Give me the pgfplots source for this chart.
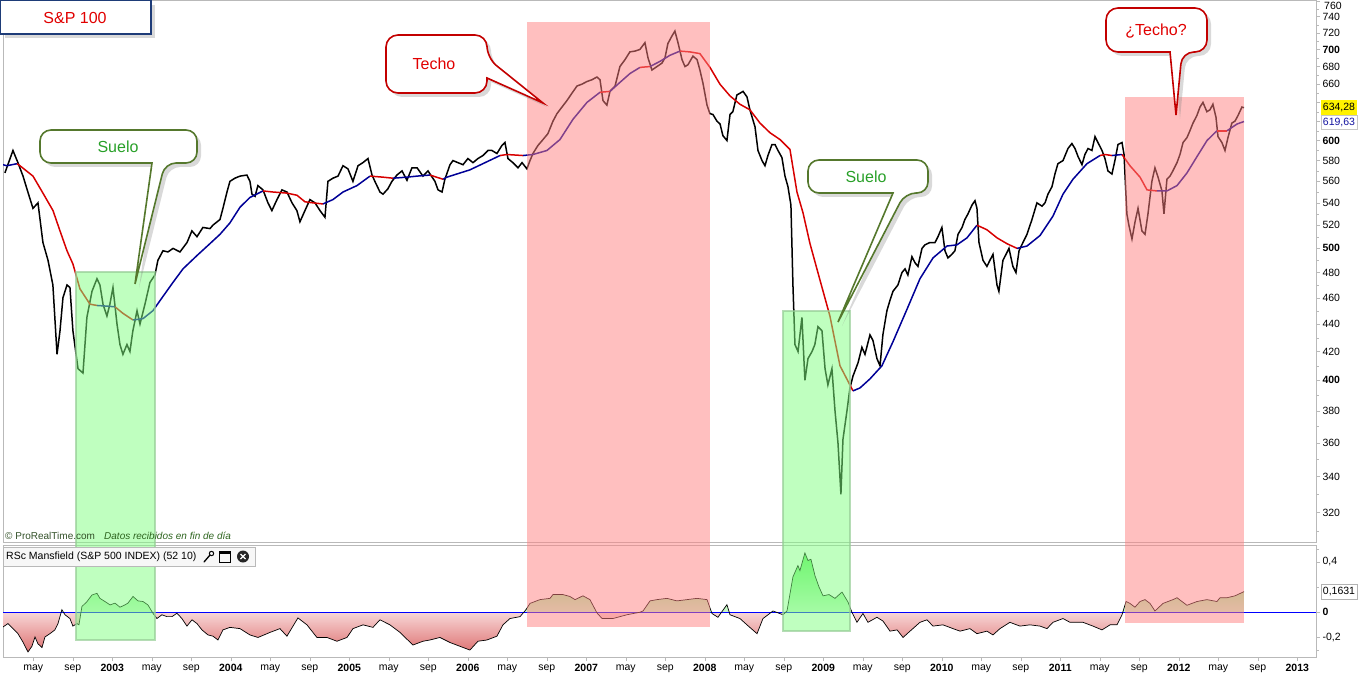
\documentclass[border=0pt]{standalone}
\usepackage{fontspec}
\setmainfont{Liberation Sans}
\usepackage{pgfplots}
\usepackage{pgfplotstable}
\pgfplotsset{compat=1.18}
\usetikzlibrary{shadows}

\definecolor{maRed}{RGB}{215,0,0}
\definecolor{maBlue}{RGB}{0,0,150}
\definecolor{boxPink}{RGB}{255,128,128}
\definecolor{boxGreen}{RGB}{128,255,128}
\definecolor{greenEdge}{RGB}{150,205,150}
\definecolor{sueloTxt}{RGB}{40,160,40}
\definecolor{sueloLine}{RGB}{85,120,45}
\definecolor{techoLine}{RGB}{195,0,0}
\definecolor{techoTxt}{RGB}{225,0,0}
\definecolor{axGray}{RGB}{185,185,185}
\definecolor{prtGreen}{RGB}{45,100,30}
\definecolor{navyEdge}{RGB}{30,60,120}

% red below zero, green above: the path box (min -0.315, max 0.47) fills the middle 50bp
\pgfdeclareverticalshading{mansfield}{100bp}{%
  rgb(0bp)=(0.87,0.45,0.45);
  rgb(25bp)=(0.87,0.45,0.45);
  rgb(45bp)=(0.97,0.84,0.84);
  rgb(45.1bp)=(0.80,0.97,0.80);
  rgb(75bp)=(0.38,0.93,0.38);
  rgb(100bp)=(0.38,0.93,0.38)}

\newcommand{\lbl}{\fontsize{10.5}{12}\selectfont}
\newcommand{\bigtxt}{\fontsize{16}{18}\selectfont}

\pgfplotsset{
  maR/.style={color=maRed, line width=1.5pt},
  maB/.style={color=maBlue, line width=1.5pt},
}

% weekly close, S&P 100
\pgfplotstableread{
t v
2002.094 568
2002.162 590
2002.204 578
2002.247 565
2002.288 550
2002.331 535
2002.373 540
2002.415 505
2002.458 490
2002.499 470
2002.534 418
2002.559 435
2002.584 460
2002.618 470
2002.643 468
2002.668 435
2002.711 408
2002.753 405
2002.786 445
2002.829 465
2002.871 475
2002.896 470
2002.922 455
2002.955 446
2002.980 455
2003.006 468
2003.040 440
2003.065 425
2003.090 418
2003.124 425
2003.149 420
2003.174 435
2003.209 450
2003.234 440
2003.276 455
2003.318 472
2003.360 478
2003.385 490
2003.428 498
2003.470 497
2003.513 500
2003.571 497
2003.631 505
2003.672 515
2003.715 510
2003.765 518
2003.825 517
2003.849 520
2003.909 525
2003.934 535
2003.968 550
2003.993 560
2004.035 563
2004.078 565
2004.136 566
2004.162 560
2004.179 548
2004.205 546
2004.229 556
2004.272 552
2004.314 540
2004.347 533
2004.390 543
2004.432 552
2004.474 550
2004.517 540
2004.558 533
2004.584 523
2004.626 533
2004.668 543
2004.711 540
2004.753 533
2004.795 527
2004.820 560
2004.862 563
2004.905 565
2004.947 575
2004.989 572
2005.031 560
2005.074 575
2005.115 578
2005.158 582
2005.192 566
2005.216 560
2005.259 550
2005.285 548
2005.326 553
2005.360 560
2005.402 566
2005.445 570
2005.487 561
2005.529 573
2005.572 573
2005.622 565
2005.664 570
2005.723 560
2005.749 552
2005.783 550
2005.807 562
2005.850 576
2005.875 580
2005.917 578
2005.960 576
2006.001 582
2006.044 578
2006.086 582
2006.128 585
2006.171 590
2006.204 590
2006.246 587
2006.288 595
2006.314 598
2006.339 582
2006.381 578
2006.424 573
2006.458 578
2006.499 572
2006.525 580
2006.550 587
2006.592 595
2006.635 601
2006.676 607
2006.719 620
2006.753 628
2006.795 635
2006.837 642
2006.879 650
2006.922 658
2006.963 660
2007.006 663
2007.048 665
2007.090 668
2007.116 665
2007.141 642
2007.174 637
2007.200 652
2007.243 658
2007.284 680
2007.327 688
2007.368 697
2007.411 698
2007.453 700
2007.495 708
2007.521 690
2007.554 676
2007.597 680
2007.639 684
2007.664 690
2007.689 707
2007.723 716
2007.748 722
2007.774 708
2007.808 688
2007.833 680
2007.858 682
2007.900 692
2007.935 688
2007.959 676
2007.985 661
2008.019 637
2008.043 628
2008.069 627
2008.103 620
2008.129 617
2008.153 605
2008.187 600
2008.213 627
2008.237 630
2008.271 648
2008.297 650
2008.323 652
2008.356 646
2008.381 632
2008.424 614
2008.449 590
2008.483 580
2008.508 575
2008.533 585
2008.567 596
2008.593 596
2008.618 590
2008.651 583
2008.677 565
2008.702 555
2008.727 538
2008.744 470
2008.761 425
2008.787 420
2008.820 445
2008.845 400
2008.871 415
2008.905 420
2008.929 425
2008.955 438
2008.989 435
2009.015 408
2009.039 397
2009.073 408
2009.099 380
2009.124 360
2009.149 330
2009.166 362
2009.200 380
2009.225 395
2009.251 403
2009.293 412
2009.326 423
2009.352 418
2009.394 432
2009.419 428
2009.453 415
2009.479 410
2009.503 432
2009.537 450
2009.563 458
2009.588 465
2009.630 470
2009.664 480
2009.690 483
2009.714 478
2009.748 493
2009.774 488
2009.799 485
2009.833 500
2009.858 503
2009.900 505
2009.943 505
2009.968 510
2010.001 518
2010.027 498
2010.052 492
2010.085 495
2010.111 498
2010.137 512
2010.171 518
2010.195 525
2010.221 530
2010.255 538
2010.280 542
2010.297 535
2010.314 505
2010.348 490
2010.381 485
2010.406 490
2010.432 495
2010.466 470
2010.482 465
2010.516 490
2010.542 495
2010.567 500
2010.600 485
2010.626 480
2010.652 498
2010.685 505
2010.719 512
2010.761 525
2010.803 540
2010.846 537
2010.871 540
2010.896 548
2010.930 555
2010.955 567
2010.980 577
2011.023 580
2011.065 592
2011.098 597
2011.124 592
2011.150 584
2011.183 576
2011.208 586
2011.234 592
2011.267 590
2011.293 604
2011.318 598
2011.352 590
2011.377 582
2011.402 570
2011.436 567
2011.461 580
2011.487 596
2011.521 598
2011.538 586
2011.562 530
2011.579 520
2011.605 508
2011.631 523
2011.656 535
2011.689 515
2011.715 512
2011.740 530
2011.773 560
2011.799 573
2011.825 564
2011.858 551
2011.875 530
2011.900 562
2011.926 565
2011.950 570
2011.985 578
2012.010 586
2012.036 598
2012.069 603
2012.094 610
2012.120 618
2012.153 626
2012.179 635
2012.204 640
2012.237 630
2012.263 632
2012.288 638
2012.314 624
2012.331 604
2012.364 598
2012.390 590
2012.415 603
2012.448 618
2012.474 620
2012.500 626
2012.533 635
2012.550 634.28
}\price

% RSc Mansfield (S&P 500 INDEX) (52 10)
\pgfplotstableread{
t r
2002.078 -0.117
2002.120 -0.09
2002.162 -0.13
2002.204 -0.17
2002.246 -0.236
2002.289 -0.315
2002.322 -0.27
2002.348 -0.196
2002.373 -0.25
2002.407 -0.28
2002.432 -0.196
2002.474 -0.17
2002.516 -0.14
2002.542 -0.09
2002.575 0.02
2002.601 -0.02
2002.643 -0.05
2002.668 -0.11
2002.702 -0.09
2002.719 -0.1
2002.744 0.045
2002.787 0.085
2002.829 0.137
2002.871 0.15
2002.896 0.11
2002.938 0.085
2002.981 0.058
2003.023 0.072
2003.065 0.04
2003.107 0.058
2003.132 0.072
2003.175 0.125
2003.217 0.09
2003.259 0.085
2003.301 0.058
2003.343 -0.008
2003.377 -0.05
2003.419 -0.02
2003.462 -0.035
2003.504 -0.035
2003.546 -0.008
2003.588 -0.05
2003.630 -0.11
2003.673 -0.06
2003.715 -0.09
2003.757 -0.14
2003.808 -0.18
2003.850 -0.19
2003.892 -0.22
2003.934 -0.14
2003.993 -0.12
2004.078 -0.13
2004.162 -0.18
2004.230 -0.2
2004.331 -0.16
2004.415 -0.13
2004.474 -0.19
2004.567 -0.045
2004.643 -0.1
2004.727 -0.2
2004.812 -0.2
2004.896 -0.23
2004.981 -0.2
2005.031 -0.13
2005.116 -0.1
2005.200 -0.12
2005.259 -0.06
2005.343 -0.1
2005.428 -0.16
2005.537 -0.26
2005.622 -0.23
2005.681 -0.22
2005.765 -0.2
2005.850 -0.24
2005.934 -0.27
2006.018 -0.3
2006.086 -0.23
2006.162 -0.22
2006.246 -0.19
2006.297 -0.1
2006.356 -0.05
2006.441 -0.035
2006.491 0.02
2006.525 0.07
2006.609 0.1
2006.694 0.11
2006.719 0.14
2006.803 0.14
2006.862 0.125
2006.905 0.1
2006.972 0.13
2007.031 0.1
2007.090 -0.005
2007.133 -0.05
2007.225 -0.05
2007.343 -0.02
2007.453 0.0
2007.479 0.01
2007.538 0.09
2007.597 0.1
2007.681 0.11
2007.765 0.09
2007.850 0.1
2007.934 0.11
2008.019 0.1
2008.061 -0.01
2008.111 -0.04
2008.187 0.06
2008.213 -0.02
2008.297 -0.05
2008.356 -0.1
2008.441 -0.17
2008.491 -0.05
2008.576 0.01
2008.660 -0.02
2008.694 0.01
2008.744 0.28
2008.786 0.37
2008.803 0.33
2008.845 0.47
2008.871 0.41
2008.896 0.42
2008.930 0.29
2008.964 0.2
2008.998 0.13
2009.048 0.14
2009.099 0.11
2009.158 0.16
2009.209 0.08
2009.242 0.0
2009.284 -0.08
2009.335 -0.01
2009.377 -0.08
2009.453 -0.04
2009.504 -0.07
2009.563 -0.15
2009.623 -0.14
2009.673 -0.2
2009.732 -0.15
2009.816 -0.08
2009.875 -0.06
2009.926 -0.11
2010.010 -0.1
2010.095 -0.13
2010.154 -0.15
2010.238 -0.13
2010.297 -0.17
2010.381 -0.15
2010.432 -0.18
2010.491 -0.13
2010.575 -0.08
2010.660 -0.11
2010.744 -0.1
2010.829 -0.11
2010.888 -0.13
2010.938 -0.08
2011.023 -0.05
2011.082 -0.08
2011.192 -0.08
2011.276 -0.11
2011.352 -0.14
2011.420 -0.1
2011.479 -0.1
2011.521 -0.02
2011.555 0.085
2011.588 0.07
2011.630 0.04
2011.673 0.085
2011.715 0.1
2011.757 0.07
2011.799 0.01
2011.867 0.07
2011.951 0.1
2011.985 0.115
2012.069 0.055
2012.154 0.085
2012.238 0.1
2012.322 0.085
2012.348 0.115
2012.407 0.115
2012.474 0.13
2012.550 0.1631
}\rsc

\begin{document}
\begin{tikzpicture}

% ---------------- price panel ----------------
\begin{axis}[
  at={(3pt,0pt)}, anchor=north west, scale only axis,
  width=1313pt, height=542pt,
  xmin=2002.078, xmax=2013.158,
  ymode=log, ymin=304.4, ymax=761,
  axis line style={axGray},
  xtick=\empty,
  ytick={320,340,360,380,400,420,440,460,480,500,520,540,560,580,600,620,640,660,680,700,720,740,760},
  yticklabels={320,340,360,380,\textbf{400},420,440,460,480,\textbf{500},520,540,560,580,\textbf{600},{},{},660,680,\textbf{700},720,740,{}},
  minor ytick={310,330,350,370,390,410,430,450,470,490,510,530,550,570,590,610,630,650,670,690,710,730,750},
  ytick pos=right, yticklabel pos=right,
  tick align=outside, major tick length=4pt, minor tick length=2.5pt,
  tick style={axGray},
  yticklabel style={font=\lbl, text=black, xshift=-1pt},
]
\addplot[black, line width=1.5pt] table {\price};

\addplot[maB] coordinates {(2002.078,576) (2002.111,575) (2002.196,577)};
\addplot[maR] coordinates {(2002.196,577) (2002.221,575) (2002.331,565) (2002.415,549) (2002.500,533) (2002.559,515) (2002.618,498) (2002.668,487) (2002.727,467) (2002.812,455) (2002.871,454)};
\addplot[maB] coordinates {(2002.871,454) (2002.955,453.5) (2003.023,453)};
\addplot[maR] coordinates {(2003.023,453) (2003.090,448) (2003.175,443)};
\addplot[maB] coordinates {(2003.175,443) (2003.259,444) (2003.343,450) (2003.428,461) (2003.512,472) (2003.597,483) (2003.715,494) (2003.824,504) (2003.909,512) (2003.993,522) (2004.078,536) (2004.162,545) (2004.272,551)};
\addplot[maR] coordinates {(2004.272,551) (2004.356,550) (2004.474,549) (2004.559,547) (2004.626,541) (2004.694,540) (2004.778,539)};
\addplot[maB] coordinates {(2004.778,539) (2004.862,543) (2004.947,550) (2005.065,556) (2005.175,565)};
\addplot[maR] coordinates {(2005.175,565) (2005.284,564) (2005.369,563)};
\addplot[maB] coordinates {(2005.369,563) (2005.487,564) (2005.571,565) (2005.681,566)};
\addplot[maR] coordinates {(2005.681,566) (2005.791,562)};
\addplot[maB] coordinates {(2005.791,562) (2005.824,564) (2006.018,571) (2006.272,585)};
\addplot[maR] coordinates {(2006.272,585) (2006.331,586) (2006.466,585)};
\addplot[maB] coordinates {(2006.466,585) (2006.550,586) (2006.668,590) (2006.778,601) (2006.888,622) (2007.006,640) (2007.116,651)};
\addplot[maR] coordinates {(2007.116,651) (2007.200,652)};
\addplot[maB] coordinates {(2007.200,652) (2007.284,662) (2007.369,672) (2007.453,679)};
\addplot[maR] coordinates {(2007.453,679) (2007.538,680)};
\addplot[maB] coordinates {(2007.538,680) (2007.622,686) (2007.706,693) (2007.791,698)};
\addplot[maR] coordinates {(2007.791,698) (2007.875,697) (2007.959,695) (2008.044,679) (2008.128,660) (2008.213,647) (2008.297,638) (2008.381,632) (2008.466,618) (2008.550,608) (2008.635,601) (2008.719,591) (2008.778,550) (2008.829,531) (2008.888,504) (2008.972,474) (2009.056,446) (2009.141,410) (2009.225,397) (2009.251,393)};
\addplot[maB] coordinates {(2009.251,393) (2009.310,395) (2009.394,401) (2009.495,410) (2009.588,427) (2009.706,451) (2009.816,475) (2009.926,492) (2010.044,502) (2010.128,503) (2010.213,509) (2010.297,520)};
\addplot[maR] coordinates {(2010.297,520) (2010.381,516) (2010.466,509) (2010.550,504) (2010.635,500)};
\addplot[maB] coordinates {(2010.635,500) (2010.719,502) (2010.829,511) (2010.938,528) (2011.023,548) (2011.107,562) (2011.225,577) (2011.335,585)};
\addplot[maR] coordinates {(2011.335,585) (2011.377,586) (2011.436,585)};
\addplot[maB] coordinates {(2011.436,585) (2011.521,586)};
\addplot[maR] coordinates {(2011.521,586) (2011.588,575) (2011.673,564) (2011.732,552) (2011.816,551)};
\addplot[maB] coordinates {(2011.816,551) (2011.900,551) (2011.985,556) (2012.069,568) (2012.154,584) (2012.238,600) (2012.322,610)};
\addplot[maR] coordinates {(2012.322,610) (2012.407,610)};
\addplot[maB] coordinates {(2012.407,610) (2012.491,617) (2012.550,619.63)};

\coordinate (g1a) at (axis cs:2002.694,480.4);
\coordinate (p1a) at (axis cs:2006.500,733.3);
\coordinate (g2a) at (axis cs:2008.660,450.2);
\coordinate (p2a) at (axis cs:2011.546,646.1);
\end{axis}

% ---------------- indicator panel ----------------
\begin{axis}[
  at={(3pt,-545pt)}, anchor=north west, scale only axis,
  width=1313pt, height=112pt,
  xmin=2002.078, xmax=2013.158,
  ymin=-0.355, ymax=0.533,
  axis line style={axGray},
  xtick={2002.333,2002.667,2003,2003.333,2003.667,2004,2004.333,2004.667,2005,2005.333,2005.667,2006,2006.333,2006.667,2007,2007.333,2007.667,2008,2008.333,2008.667,2009,2009.333,2009.667,2010,2010.333,2010.667,2011,2011.333,2011.667,2012,2012.333,2012.667,2013},
  xticklabels={may,sep,\textbf{2003},may,sep,\textbf{2004},may,sep,\textbf{2005},may,sep,\textbf{2006},may,sep,\textbf{2007},may,sep,\textbf{2008},may,sep,\textbf{2009},may,sep,\textbf{2010},may,sep,\textbf{2011},may,sep,\textbf{2012},may,sep,\textbf{2013}},
  xtick pos=bottom,
  ytick={-0.2,0,0.4},
  yticklabels={{-0,2},{\textbf{0}},{0,4}},
  minor ytick={-0.3,0.2,0.5},
  ytick pos=right, yticklabel pos=right,
  tick align=outside, major tick length=4pt, minor tick length=2.5pt,
  tick style={axGray},
  yticklabel style={font=\lbl, text=black, xshift=-1pt},
  xticklabel style={font=\lbl, text=black},
]
\addplot[draw=none, shading=mansfield] table {\rsc} \closedcycle;
\addplot[blue, line width=0.7pt] coordinates {(2002.078,0) (2013.158,0)};
\addplot[black, line width=0.7pt] table {\rsc};

\coordinate (g1b) at (axis cs:2003.360,-0.223);
\coordinate (p1b) at (axis cs:2008.044,-0.119);
\coordinate (g2b) at (axis cs:2009.225,-0.151);
\coordinate (p2b) at (axis cs:2012.550,-0.087);
\end{axis}

\begin{scope}[x=1pt,y=1pt]
% ---------------- highlighted zones ----------------
\fill[boxPink, opacity=0.5] (p1a) rectangle (p1b);
\fill[boxPink, opacity=0.5] (p2a) rectangle (p2b);
\fill[boxGreen, opacity=0.5] (g1a) rectangle (g1b);
\fill[boxGreen, opacity=0.5] (g2a) rectangle (g2b);
\draw[greenEdge, line width=2pt, opacity=0.7] (g1a) rectangle (g1b);
\draw[greenEdge, line width=2pt, opacity=0.7] (g2a) rectangle (g2b);

% ---------------- value flags on the right ----------------
\node[anchor=west, font=\lbl, inner sep=0] at (1324,-6) {760};
\fill[yellow] (1321,-100.5) rectangle (1357,-115);
\node[font=\lbl] at (1339,-108) {634,28};
\draw[gray!45, fill=white] (1321,-115.5) rectangle (1357,-129);
\node[font=\lbl, text={rgb,255:red,20;green,20;blue,160}] at (1339,-122.5) {619,63};
\draw[gray!60, fill=white] (1321,-584) rectangle (1357,-599);
\node[font=\lbl] at (1339,-591.5) {0,1631};

% ---------------- texts ----------------
\node[anchor=west, font=\fontsize{10}{12}\selectfont, text={rgb,255:red,50;green,80;blue,40}, inner sep=0] at (5,-536) {© ProRealTime.com};
\node[anchor=west, font=\fontsize{10}{12}\selectfont\itshape, text=prtGreen, inner sep=0] at (104,-536) {Datos recibidos en fin de día};

\draw[gray!55, fill=gray!6] (3,-547) rectangle (255,-566);
\node[anchor=west, font=\lbl, inner sep=0] at (6,-556.5) {RSc Mansfield (S\&P 500 INDEX) (52 10)};
\draw[black, line width=1.3pt, line cap=round] (204,-562) -- (210,-555);
\draw[black, line width=1pt] (211.5,-553.5) circle (2.2);
\draw[black, line width=0.9pt] (219,-551) rectangle (230,-562);
\fill[black] (219,-551) rectangle (230,-554);
\fill[gray!30!black] (243,-556.5) circle (6);
\draw[white, line width=1.3pt] (240.5,-554) -- (245.5,-559) (240.5,-559) -- (245.5,-554);

% ---------------- title ----------------
\draw[navyEdge, line width=1.3pt, fill=white,
  drop shadow={shadow xshift=4pt, shadow yshift=-4pt, opacity=0.3}] (0.7,-0.7) rectangle (151,-34);
\node[font=\bigtxt, text=techoTxt] at (75,-18) {S\&P 100};

% ---------------- callouts ----------------
\draw[sueloLine, line width=1.6pt, fill=white,
  drop shadow={shadow xshift=4pt, shadow yshift=-4pt, opacity=0.3}]
  (118,-130) [rounded corners=11pt] -- (197,-130) -- (197,-163) -- (165,-163)
  [sharp corners] -- (135,-284) -- (152,-163)
  [rounded corners=11pt] -- (40,-163) -- (40,-130) -- cycle;
\node[font=\bigtxt, text=sueloTxt] at (118,-146.5) {Suelo};

\draw[techoLine, line width=1.6pt, fill=white,
  drop shadow={shadow xshift=4pt, shadow yshift=-4pt, opacity=0.3}]
  (436,-35) [rounded corners=12pt] -- (487,-35) -- (487,-58)
  [sharp corners] -- (543,-103) -- (487,-78)
  [rounded corners=12pt] -- (487,-93) -- (386,-93) -- (386,-35) -- cycle;
\node[font=\bigtxt, text=techoTxt] at (434,-64) {Techo};

\draw[sueloLine, line width=1.6pt, fill=white,
  drop shadow={shadow xshift=4pt, shadow yshift=-4pt, opacity=0.3}]
  (868,-160) [rounded corners=11pt] -- (928,-160) -- (928,-193) -- (905,-193)
  [sharp corners] -- (838,-322) -- (893,-193)
  [rounded corners=11pt] -- (808,-193) -- (808,-160) -- cycle;
\node[font=\bigtxt, text=sueloTxt] at (866,-176.5) {Suelo};

\draw[techoLine, line width=1.6pt, fill=white,
  drop shadow={shadow xshift=4pt, shadow yshift=-4pt, opacity=0.3}]
  (1156,-8) [rounded corners=12pt] -- (1207,-8) -- (1207,-52) -- (1182,-52)
  [sharp corners] -- (1176,-115) -- (1170,-52)
  [rounded corners=12pt] -- (1106,-52) -- (1106,-8) -- cycle;
\node[font=\bigtxt, text=techoTxt] at (1156,-31) {¿Techo?};

\pgfresetboundingbox
\path[use as bounding box] (0,0) rectangle (1364,-676);
\end{scope}
\end{tikzpicture}
\end{document}
